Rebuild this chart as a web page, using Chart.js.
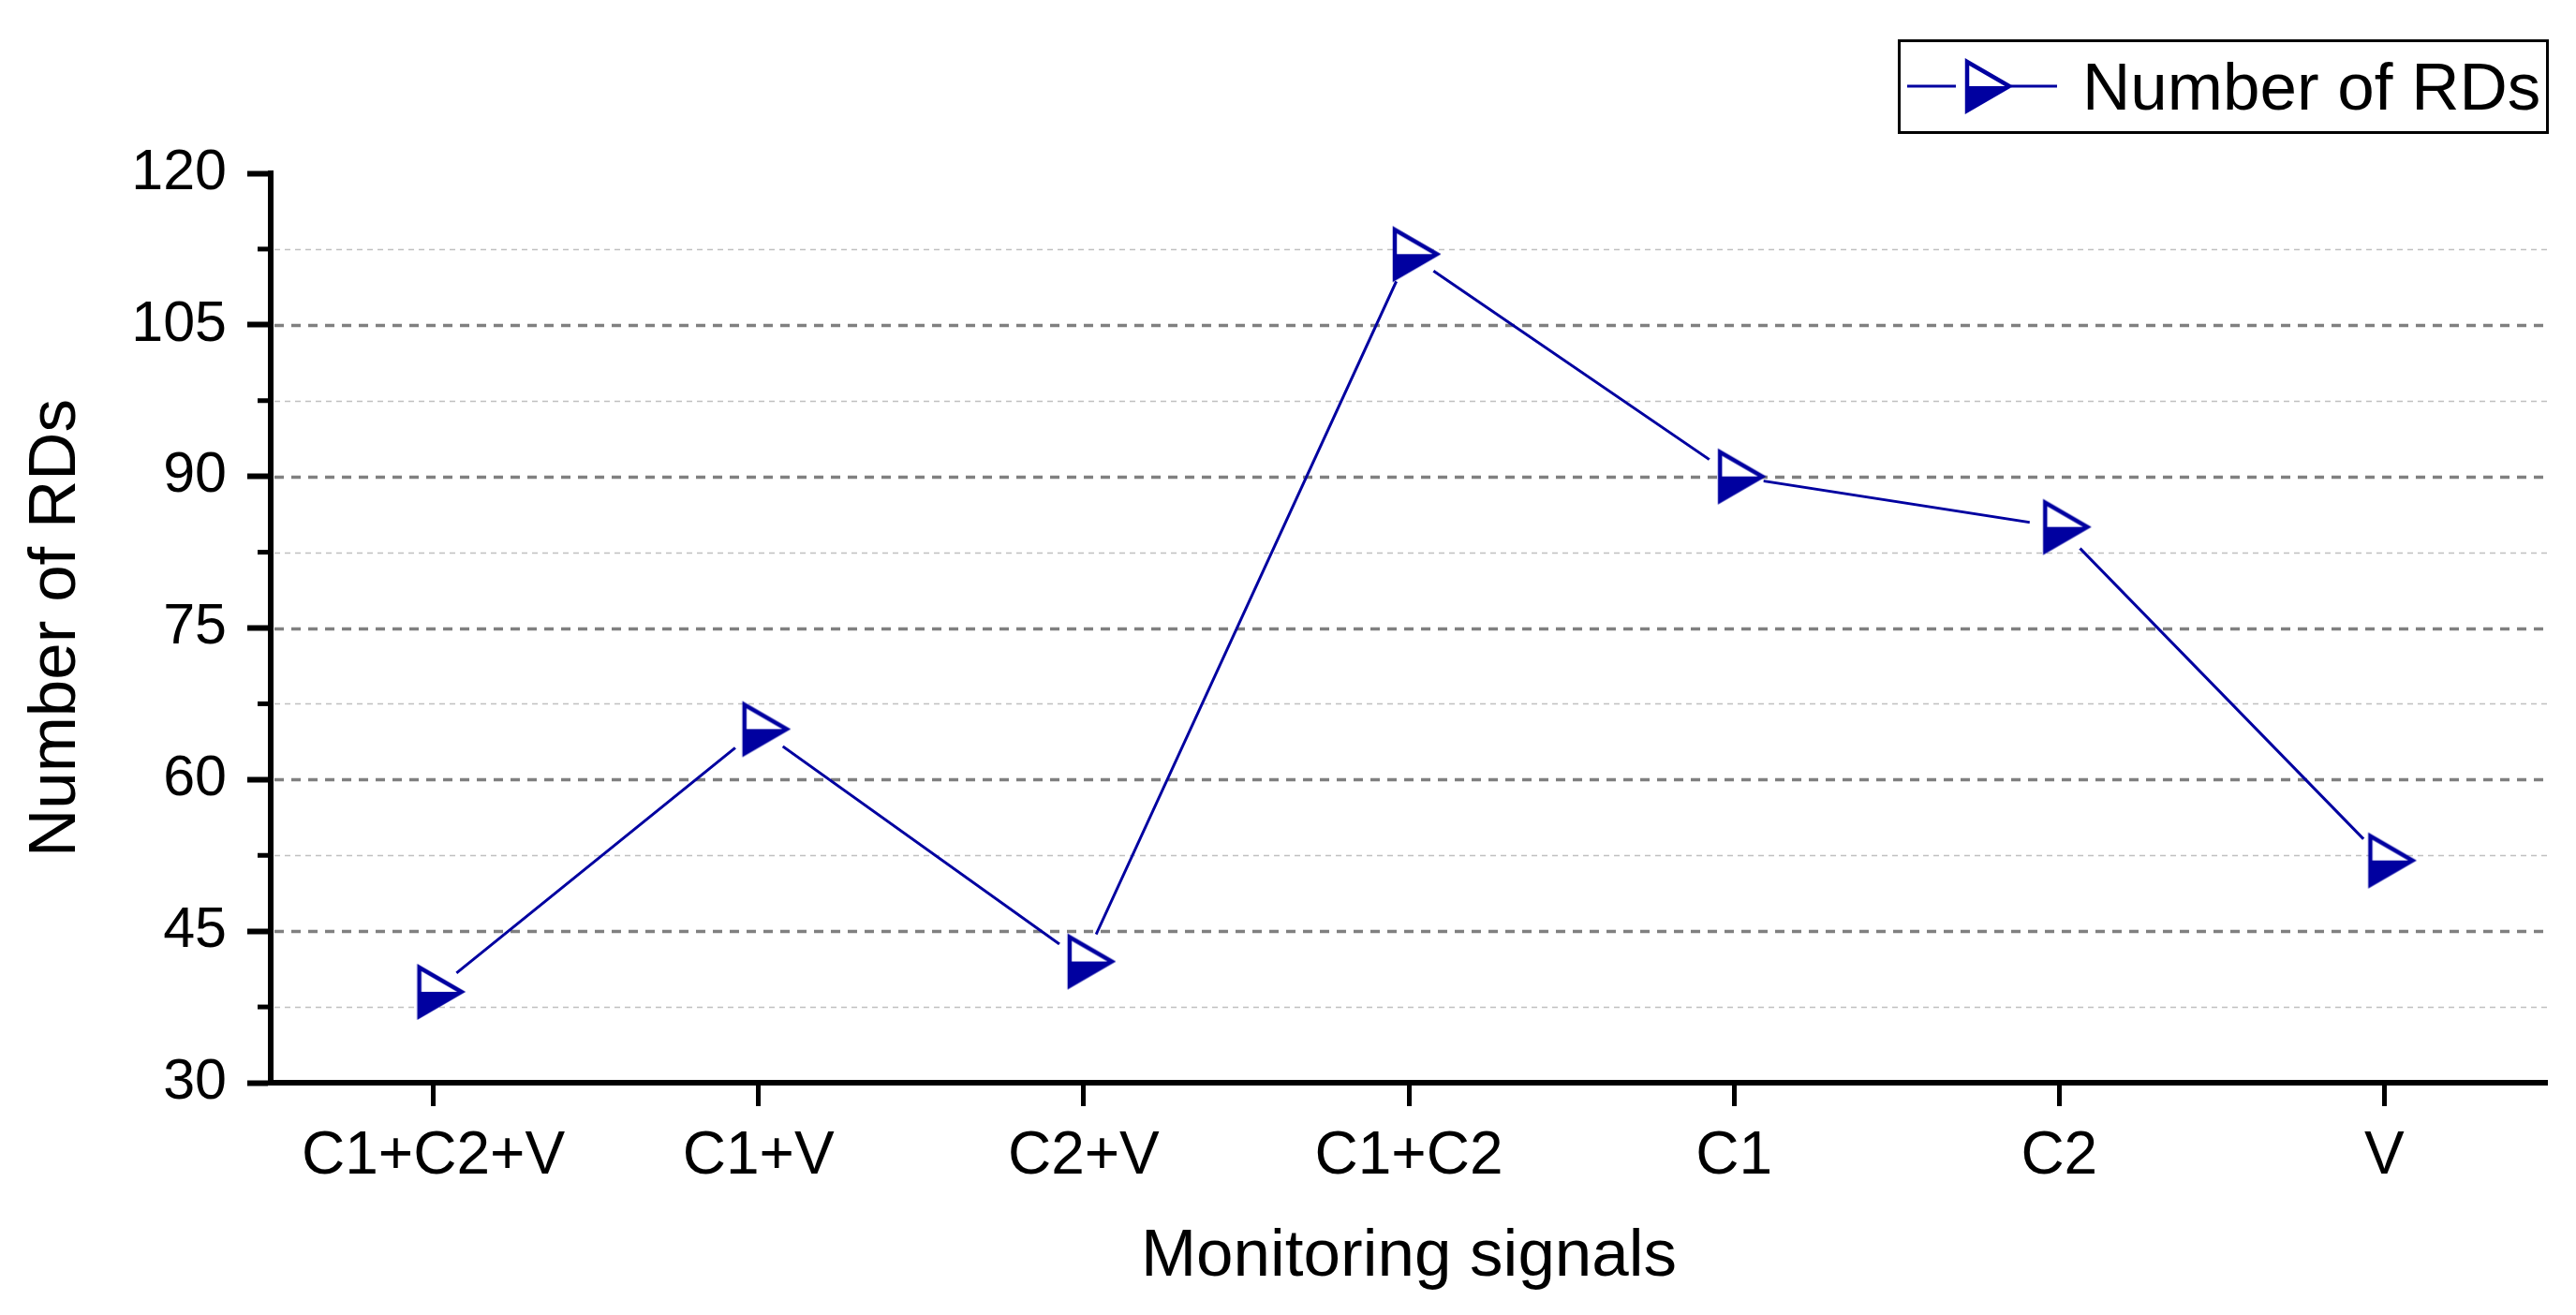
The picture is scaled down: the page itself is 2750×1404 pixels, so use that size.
<!DOCTYPE html>
<html lang="en">
<head>
<meta charset="UTF-8">
<title>Number of RDs</title>
<script src="https://cdn.jsdelivr.net/npm/chart.js"></script>
<style>
  html, body { margin: 0; padding: 0; background: #fff; }
  #wrap { width: 2750px; height: 1404px; position: relative; }
</style>
</head>
<body>
<div id="wrap"><canvas id="rdChart"></canvas></div>
<script>
  // values
  const signals = ['C1+C2+V', 'C1+V', 'C2+V', 'C1+C2', 'C1', 'C2', 'V'];
  const rdCounts = [39, 65, 42, 112, 90, 85, 52];
  const yMajorTicks = [30, 45, 60, 75, 90, 105, 120];
  const yMinorTicks = [37.5, 52.5, 67.5, 82.5, 97.5, 112.5];
  const seriesName = 'Number of RDs';

  const BLUE = '#0000a0';
  const FONT = '"Liberation Sans", Arial, sans-serif';

  // right-pointing triangle, top half open, bottom half filled; centroid at canvas centre
  function triangleMarker() {
    const c = document.createElement('canvas');
    c.width = 80; c.height = 80;
    const g = c.getContext('2d');
    const cy = 40, l = 40 - 15, t = 40 + 30, h = 26;
    g.lineJoin = 'miter';
    g.beginPath(); g.moveTo(l, cy - h); g.lineTo(t, cy); g.lineTo(l, cy + h); g.closePath();
    g.fillStyle = '#fff'; g.fill();
    g.beginPath(); g.moveTo(l, cy); g.lineTo(t, cy); g.lineTo(l, cy + h); g.closePath();
    g.fillStyle = BLUE; g.fill();
    g.beginPath(); g.moveTo(l, cy - h); g.lineTo(t, cy); g.lineTo(l, cy + h); g.closePath();
    g.strokeStyle = BLUE; g.lineWidth = 4.5; g.stroke();
    return c;
  }
  const marker = triangleMarker();

  // dashed grid + minor ticks on the y axis
  const gridLines = {
    id: 'gridLines',
    beforeDatasetsDraw(chart) {
      const { ctx, chartArea: a, scales: { y } } = chart;
      ctx.save();
      const line = (v, color, width, dash) => {
        const py = Math.round(y.getPixelForValue(v)) + 0.5;
        ctx.strokeStyle = color; ctx.lineWidth = width; ctx.setLineDash(dash);
        ctx.beginPath(); ctx.moveTo(a.left + 4, py); ctx.lineTo(a.right, py); ctx.stroke();
      };
      yMinorTicks.forEach(v => line(v, '#c0c0c0', 1.5, [6, 5]));
      yMajorTicks.filter(v => v > y.min && v < y.max).forEach(v => line(v, '#808080', 3.3, [10, 8]));
      ctx.setLineDash([]); ctx.strokeStyle = '#000'; ctx.lineWidth = 5;
      yMinorTicks.forEach(v => {
        const py = y.getPixelForValue(v);
        ctx.beginPath(); ctx.moveTo(a.left - 14, py); ctx.lineTo(a.left, py); ctx.stroke();
      });
      ctx.restore();
    }
  };

  // leave a gap in the connecting line around every marker
  const lineGaps = {
    id: 'lineGaps',
    beforeDatasetDraw(chart, args) {
      if (args.index !== 0) return;
      const pts = chart.getDatasetMeta(1).data;
      const ctx = chart.ctx;
      ctx.save();
      ctx.beginPath();
      ctx.rect(0, 0, chart.width, chart.height);
      pts.forEach(p => { ctx.moveTo(p.x + 32, p.y); ctx.arc(p.x, p.y, 32, 0, Math.PI * 2); });
      ctx.clip('evenodd');
    },
    afterDatasetDraw(chart, args) {
      if (args.index === 0) chart.ctx.restore();
    }
  };

  // boxed legend at the top right
  const boxedLegend = {
    id: 'boxedLegend',
    afterDraw(chart) {
      const ctx = chart.ctx;
      ctx.save();
      ctx.strokeStyle = '#000'; ctx.lineWidth = 3;
      ctx.strokeRect(2027.5, 43.5, 692, 98);
      ctx.strokeStyle = BLUE; ctx.lineWidth = 3;
      ctx.beginPath();
      ctx.moveTo(2036, 92); ctx.lineTo(2088, 92);
      ctx.moveTo(2147, 92); ctx.lineTo(2196, 92);
      ctx.stroke();
      ctx.drawImage(marker, 2115 - 40, 92 - 40);
      ctx.fillStyle = '#000'; ctx.font = '71px ' + FONT; ctx.textBaseline = 'alphabetic';
      ctx.fillText(seriesName, 2223, 117);
      ctx.restore();
    }
  };

  new Chart(document.getElementById('rdChart'), {
    type: 'line',
    data: {
      labels: signals,
      datasets: [
        { label: seriesName, data: rdCounts, borderColor: BLUE, borderWidth: 3, pointRadius: 0, tension: 0, order: 2 },
        { label: seriesName, data: rdCounts, showLine: false, pointStyle: marker, pointRadius: 30,
          borderColor: BLUE, backgroundColor: BLUE, order: 1 }
      ]
    },
    options: {
      responsive: true,
      maintainAspectRatio: false,
      animation: false,
      devicePixelRatio: 1,
      layout: { padding: { top: 185, right: 31, bottom: 0, left: 0 } },
      plugins: { legend: { display: false }, tooltip: { enabled: false } },
      scales: {
        x: {
          offset: true,
          grid: { drawOnChartArea: false, offset: false, tickLength: 25, tickWidth: 5, tickColor: '#000' },
          border: { color: '#000', width: 6 },
          ticks: { color: '#000', font: { family: FONT, size: 64 }, padding: 16, maxRotation: 0, autoSkip: false },
          title: { display: true, text: 'Monitoring signals', color: '#000',
                   font: { family: FONT, size: 71 }, padding: { top: 0, bottom: 19 } },
          afterFit(s) { s.height = 248; }
        },
        y: {
          min: 30,
          max: 120,
          afterBuildTicks(s) { s.ticks = yMajorTicks.map(v => ({ value: v })); },
          grid: { drawOnChartArea: false, tickLength: 25, tickWidth: 6, tickColor: '#000' },
          border: { color: '#000', width: 6 },
          ticks: { color: '#000', font: { family: FONT, size: 61 }, padding: 22, autoSkip: false },
          title: { display: true, text: 'Number of RDs', color: '#000',
                   font: { family: FONT, size: 71 }, padding: { top: 18, bottom: 0 } },
          afterFit(s) { s.width = 289; }
        }
      }
    },
    plugins: [gridLines, lineGaps, boxedLegend]
  });
</script>
</body>
</html>
